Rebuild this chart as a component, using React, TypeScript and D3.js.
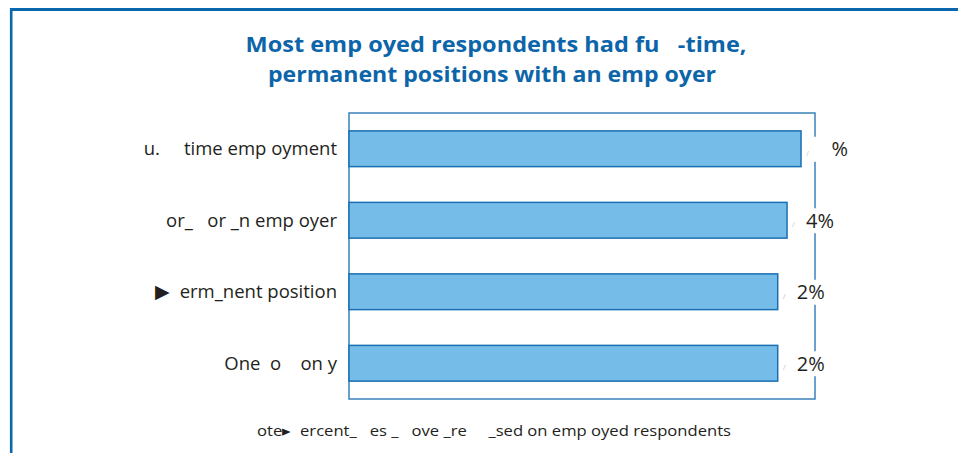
import React from "react";
import * as d3 from "d3";

const titleLines = ["Most emp oyed respondents had fu   -time,", "permanent positions with an emp oyer"];
const categories = ["u.     time emp oyment", "or_   or _n emp oyer", "▶  erm_nent position", "One  o    on y"];
const values = [97, 94, 92, 92];
const valueLabels = ["%", "4%", "2%", "2%"];
const footnote = "ote▸  ercent_   es _   ove _re     _sed on emp oyed respondents";
const xDomain = [0, 100];

const W = 958;
const H = 453;
const plot = { left: 349, right: 815, top: 113, bottom: 399 };

export default function App() {
  const x = d3.scaleLinear().domain(xDomain).range([plot.left, plot.right]);
  const y = d3
    .scaleBand<string>()
    .domain(categories)
    .range([plot.top, plot.bottom])
    .paddingInner(0.5)
    .paddingOuter(0.25);
  const font = "'Open Sans', 'Noto Sans', sans-serif";
  const pre = { whiteSpace: "pre" as const };
  return (
    <svg
      width={W}
      height={H}
      viewBox={`0 0 ${W} ${H}`}
      style={{ position: "absolute", left: 0, top: 0, display: "block", background: "#fff" }}
    >
      {/* outer frame */}
      <line x1={10} x2={W} y1={9.5} y2={9.5} stroke="#0b67ad" strokeWidth={3} />
      <line x1={11.2} x2={11.2} y1={8} y2={H} stroke="#0b67ad" strokeWidth={2.6} />

      {/* title */}
      <text
        x={496}
        y={52}
        textAnchor="middle"
        fontFamily={font}
        fontWeight={700}
        fontSize={22}
        fill="#0d65a9"
        textLength={501}
        lengthAdjust="spacingAndGlyphs"
        style={pre}
      >
        {titleLines[0]}
      </text>
      <text
        x={492}
        y={82}
        textAnchor="middle"
        fontFamily={font}
        fontWeight={700}
        fontSize={22}
        fill="#0d65a9"
        textLength={448}
        lengthAdjust="spacingAndGlyphs"
        style={pre}
      >
        {titleLines[1]}
      </text>

      {/* plot box */}
      <rect
        x={plot.left}
        y={plot.top}
        width={plot.right - plot.left}
        height={plot.bottom - plot.top}
        fill="none"
        stroke="#3a82bb"
        strokeWidth={1.5}
      />

      {categories.map((c, i) => {
        const by = y(c) as number;
        const bh = y.bandwidth();
        const cy = by + bh / 2;
        return (
          <g key={c}>
            <rect
              x={x(values[i]) + 9}
              y={cy - 12}
              width={40}
              height={25}
              fill="#fff"
            />
            <rect
              x={x(0)}
              y={by}
              width={x(values[i]) - x(0)}
              height={bh}
              fill="#75bde8"
              stroke="#1a6fb2"
              strokeWidth={1.5}
            />
            <text
              x={337}
              y={cy + 6.5}
              textAnchor="end"
              fontFamily={font}
              fontSize={18.5}
              fill="#231f20"
              style={pre}
            >
              {c}
            </text>
            <text x={x(values[i]) + 5} y={cy + 7} fontFamily={font} fontSize={8} fill="#c8c8c8">
              /
            </text>
            <text
              x={x(values[i]) + 47}
              y={cy + 7.5}
              textAnchor="end"
              fontFamily={font}
              fontSize={20}
              fill="#231f20"
            >
              {valueLabels[i]}
            </text>
          </g>
        );
      })}

      {/* footnote */}
      <text
        x={257}
        y={436}
        fontFamily={font}
        fontSize={14.5}
        fill="#231f20"
        textLength={474}
        lengthAdjust="spacingAndGlyphs"
        style={pre}
      >
        {footnote}
      </text>
    </svg>
  );
}
